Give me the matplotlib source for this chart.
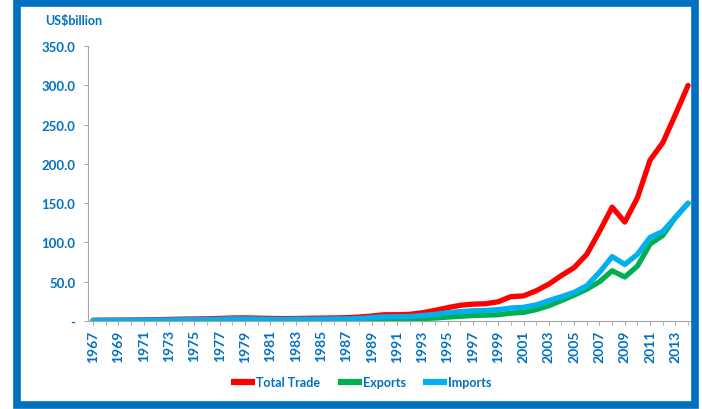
import matplotlib.pyplot as plt
from matplotlib.patches import Rectangle

# years 1967 - 2014
years = list(range(1967, 2015))

# US$ billion
total_trade = [1.0, 1.1, 1.2, 1.3, 1.5, 1.7, 2.0, 2.4, 2.6, 2.8, 3.3, 3.8, 4.0, 3.6, 3.3,
               3.1, 3.2, 3.5, 3.7, 3.9, 4.2, 5.0, 6.3, 8.0, 8.0, 8.5, 10.5, 13.5, 17.0, 20.0,
               21.5, 22.0, 24.5, 31.0, 32.0, 38.5, 47.0, 58.0, 68.0, 85.0, 114.0, 145.0, 126.0,
               157.0, 205.0, 227.0, 263.0, 300.0]
exports = [0.4, 0.4, 0.5, 0.5, 0.6, 0.7, 0.8, 1.0, 1.1, 1.2, 1.4, 1.6, 1.7, 1.6, 1.5,
           1.4, 1.4, 1.5, 1.6, 1.7, 1.8, 2.0, 2.3, 2.6, 2.6, 2.8, 3.0, 3.8, 5.0, 6.0,
           7.0, 7.5, 8.0, 10.0, 11.0, 14.5, 19.5, 26.0, 33.0, 40.5, 50.0, 64.0, 56.0,
           70.0, 98.0, 109.0, 132.0, 150.0]
imports = [0.6, 0.7, 0.7, 0.8, 0.9, 1.0, 1.2, 1.5, 1.7, 1.8, 2.2, 2.6, 2.7, 2.4, 2.1,
           2.0, 2.1, 2.3, 2.4, 2.5, 2.7, 3.2, 4.2, 5.4, 5.4, 5.7, 7.0, 8.5, 10.5, 12.0,
           13.0, 13.5, 14.5, 16.5, 17.5, 20.5, 26.0, 31.0, 36.5, 45.0, 62.0, 82.0, 72.0,
           85.0, 106.5, 114.0, 132.0, 150.0]

blue = '#0070C0'

fig = plt.figure(figsize=(7.02, 4.10), dpi=100)
ax = fig.add_axes([0.1254, 0.2146, 0.862, 0.6704])

# outer blue frame
fig.patches.append(Rectangle((0.024, 0.009), 0.966, 0.981, transform=fig.transFigure,
                             fill=False, edgecolor=blue, linewidth=5.5))

ax.plot(years, total_trade, color='#FF0000', lw=3.8, solid_capstyle='round', label='Total Trade')
ax.plot(years, exports, color='#00B050', lw=3.8, solid_capstyle='round', label='Exports')
ax.plot(years, imports, color='#00B0F0', lw=3.8, solid_capstyle='round', label='Imports')

ax.set_xlim(1966.6, 2014.4)
ax.set_ylim(0, 350)
ax.set_yticks(range(0, 351, 50))
ax.set_yticklabels(['-'] + ['%.1f' % v for v in range(50, 351, 50)])
ax.set_xticks(years, minor=True)
ax.set_xticks(years[::2])
ax.set_xticklabels([str(y) for y in years[::2]], rotation=90)

for lab in ax.get_yticklabels():
    lab.set_color(blue)
    lab.set_fontweight('bold')
    lab.set_fontsize(9.5)
    lab.set_family('Lato')
for lab in ax.get_xticklabels():
    lab.set_color(blue)
    lab.set_fontweight('bold')
    lab.set_fontsize(10)
    lab.set_family('Lato')

for s in ['top', 'right']:
    ax.spines[s].set_visible(False)
for s in ['left', 'bottom']:
    ax.spines[s].set_color('#A6A6A6')
ax.tick_params(which='both', color='#A6A6A6', length=3)
ax.tick_params(axis='y', pad=6)
ax.tick_params(axis='x', pad=3)

fig.text(0.064, 0.94, 'US$billion', color=blue, fontsize=9, fontweight='bold', family='Lato')

leg = fig.legend(loc='center', bbox_to_anchor=(0.515, 0.066), ncol=3, frameon=False,
                 handlelength=1.9, handletextpad=0.1, columnspacing=1.4,
                 prop={'family': 'Lato', 'weight': 'bold', 'size': 9})
for t in leg.get_texts():
    t.set_color(blue)
for h in leg.get_lines():
    h.set_linewidth(4.5)
    h.set_solid_capstyle('butt')

fig.savefig('out.png', dpi=100)
